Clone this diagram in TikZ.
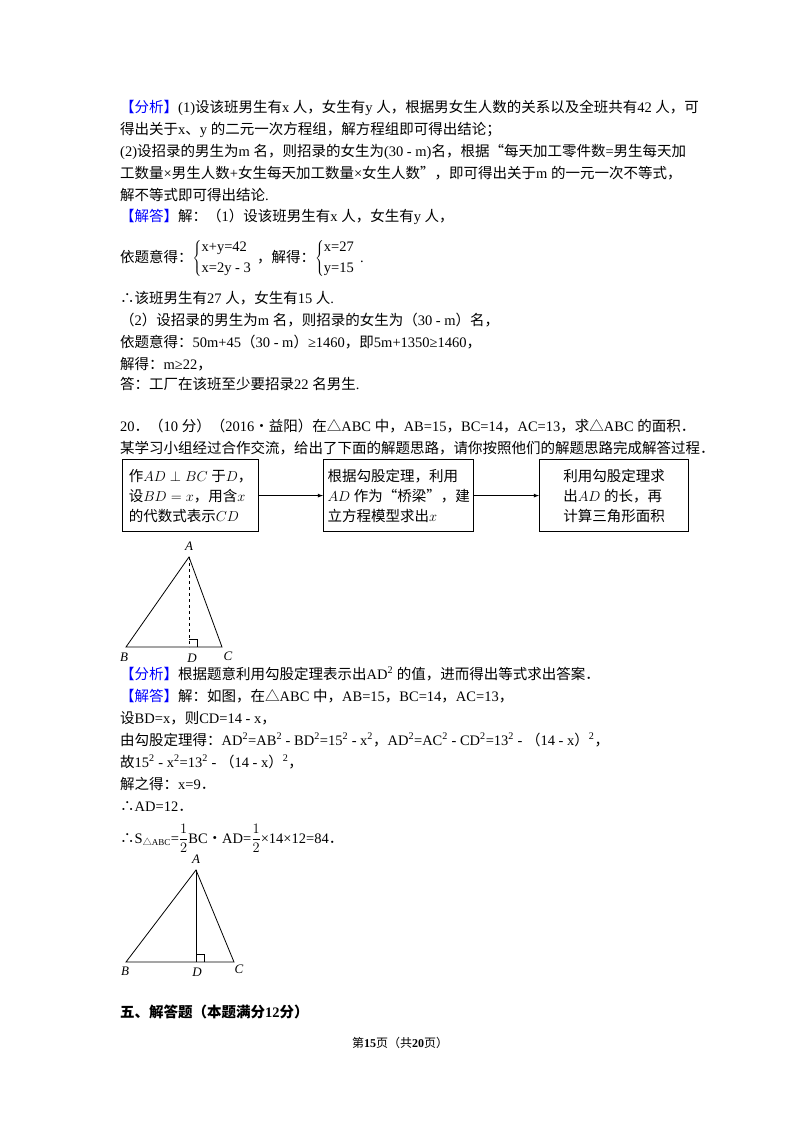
\documentclass[tikz,border=0pt]{standalone}
\usepackage{fontspec}
\setmainfont{Liberation Serif}
\newfontfamily\cjk{Noto Sans CJK SC}
\newcommand\latinf{\fontspec{Liberation Serif}}
\XeTeXinterchartokenstate=1
\newXeTeXintercharclass\cjkclass
\newcount\cc
\cc="4E00 \loop\XeTeXcharclass\cc=\cjkclass \advance\cc 1 \ifnum\cc<"A000 \repeat
\cc="3000 \loop\XeTeXcharclass\cc=\cjkclass \advance\cc 1 \ifnum\cc<"3040 \repeat
\cc="FE30 \loop\XeTeXcharclass\cc=\cjkclass \advance\cc 1 \ifnum\cc<"FFF0 \repeat
\XeTeXcharclass"2234=\cjkclass \XeTeXcharclass"25B3=\cjkclass
\XeTeXcharclass"201C=\cjkclass \XeTeXcharclass"201D=\cjkclass
\XeTeXcharclass"2022=\cjkclass
\XeTeXinterchartoks 0 \cjkclass = {\cjk}
\XeTeXinterchartoks 4095 \cjkclass = {\cjk}
\XeTeXinterchartoks \cjkclass 0 = {\latinf}
\XeTeXinterchartoks \cjkclass 4095 = {\latinf}
\begin{document}
\begin{tikzpicture}[x=1pt,y=-1pt,
  t/.style={anchor=base west,inner sep=0pt,font=\fontsize{14.5}{17}\selectfont},
  fbox/.style={draw,line width=1.2pt,minimum height=72pt,align=left,inner sep=4pt,font=\fontsize{14.5}{20}\selectfont},
  lab/.style={font=\fontsize{13}{14}\selectfont\itshape,inner sep=0pt},
  arr/.style={-latex,line width=0.8pt}]
\useasboundingbox (0,0) rectangle (800,1132);
\newcommand\blu[1]{\textcolor{blue}{#1}}
\node[t] (l1) at (120,112) {\blu{【分析】}(1)设该班男生有 x 人，女生有 y 人，根据男女生人数的关系以及全班共有 42 人，可};
\node[t] (l2) at (120,134) {得出关于 x、y 的二元一次方程组，解方程组即可得出结论；};
\node[t] (l3) at (120,156) {(2)设招录的男生为 m 名，则招录的女生为(30 - m)名，根据“每天加工零件数=男生每天加};
\node[t] (l4) at (120,178) {工数量×男生人数+女生每天加工数量×女生人数”，即可得出关于 m 的一元一次不等式，};
\node[t] (l5) at (120,200) {解不等式即可得出结论.};
\node[t] (l6) at (120,221) {\blu{【解答】}解：（1）设该班男生有 x 人，女生有 y 人，};
\node[t] (l7) at (120,262) {依题意得：$\left\{\begin{array}{@{}l}\mbox{x+y=42}\\[4pt] \mbox{x=2y - 3}\end{array}\right.$，解得：$\left\{\begin{array}{@{}l}\mbox{x=27}\\[4pt] \mbox{y=15}\end{array}\right.$.};
\node[t] (l8) at (120,303) {∴该班男生有 27 人，女生有 15 人.};
\node[t] (l9) at (120,325) {（2）设招录的男生为 m 名，则招录的女生为（30 - m）名，};
\node[t] (l10) at (120,347) {依题意得：50m+45（30 - m）≥1460，即 5m+1350≥1460，};
\node[t] (l11) at (120,369) {解得：m≥22，};
\node[t] (l12) at (120,389) {答：工厂在该班至少要招录 22 名男生.};
\node[t] (q1) at (120,431) {20．（10 分）（2016•益阳）在△ABC 中，AB=15，BC=14，AC=13，求△ABC 的面积．};
\node[t] (q2) at (120,453) {某学习小组经过合作交流，给出了下面的解题思路，请你按照他们的解题思路完成解答过程．};
\node[fbox,minimum width=136pt,anchor=north west] (b1) at (122,459) {作 $AD\perp BC$ 于 $D$，\\设 $BD=x$，用含 $x$\\的代数式表示 $CD$};
\node[fbox,minimum width=130pt,anchor=north west] (b2) at (323,459) {根据勾股定理，利用\\$AD$ 作为“桥梁”，建\\立方程模型求出 $x$};
\node[fbox,minimum width=149pt,anchor=north west] (b3) at (539,459) {利用勾股定理求\\出 $AD$ 的长，再\\计算三角形面积};
\draw[arr] (b1) -- (b2);
\draw[arr] (b2) -- (b3);
% triangle 1
\coordinate (A1) at (189,557); \coordinate (B1) at (126,647);
\coordinate (C1) at (222,647); \coordinate (D1) at (189,647);
\draw[line width=0.8pt] (A1) -- (B1) -- (C1) -- cycle;
\draw[dashed,line width=0.8pt] (A1) -- (D1);
\draw[line width=0.7pt] (189,639) -- (197,639) -- (197,647);
\node[lab] (la1) at (189,546) {A}; \node[lab] (lb1) at (124,657) {B};
\node[lab] (ld1) at (192,658) {D}; \node[lab] (lc1) at (228,656) {C};
\node[t] (s1) at (120,679) {\blu{【分析】}根据题意利用勾股定理表示出 AD\textsuperscript{2} 的值，进而得出等式求出答案．};
\node[t] (s2) at (120,701) {\blu{【解答】}解：如图，在△ABC 中，AB=15，BC=14，AC=13，};
\node[t] (s3) at (120,723) {设 BD=x，则 CD=14 - x，};
\node[t] (s4) at (120,745) {由勾股定理得：AD\textsuperscript{2}=AB\textsuperscript{2} - BD\textsuperscript{2}=15\textsuperscript{2} - x\textsuperscript{2}，AD\textsuperscript{2}=AC\textsuperscript{2} - CD\textsuperscript{2}=13\textsuperscript{2} - （14 - x）\textsuperscript{2}，};
\node[t] (s5) at (120,767) {故 15\textsuperscript{2} - x\textsuperscript{2}=13\textsuperscript{2} - （14 - x）\textsuperscript{2}，};
\node[t] (s6) at (120,789) {解之得：x=9．};
\node[t] (s7) at (120,811) {∴AD=12．};
\node[t] (s8) at (120,843) {∴S\textsubscript{\fontsize{9}{10}\selectfont △ABC}=$\displaystyle\frac{1}{2}$BC•AD=$\displaystyle\frac{1}{2}$×14×12=84．};
% triangle 2
\coordinate (A2) at (196,870); \coordinate (B2) at (126,962);
\coordinate (C2) at (234,962); \coordinate (D2) at (196,962);
\draw[line width=0.8pt] (A2) -- (B2) -- (C2) -- cycle;
\draw[line width=0.8pt] (A2) -- (D2);
\draw[line width=0.7pt] (196,954) -- (204,954) -- (204,962);
\node[lab] (la2) at (196,859) {A}; \node[lab] (lb2) at (125,971) {B};
\node[lab] (ld2) at (197,972) {D}; \node[lab] (lc2) at (239,969) {C};
\node[t,font=\fontsize{14.5}{17}\selectfont\bfseries] (h) at (120,1017) {\cjk\bfseries 五、解答题（本题满分\latinf\bfseries 12\cjk\bfseries 分）};
\node[inner sep=0pt,anchor=base,font=\fontsize{12}{14}\selectfont] (pg) at (400,1047) {第\textbf{15}页（共\textbf{20}页）};
\end{tikzpicture}
\end{document}
